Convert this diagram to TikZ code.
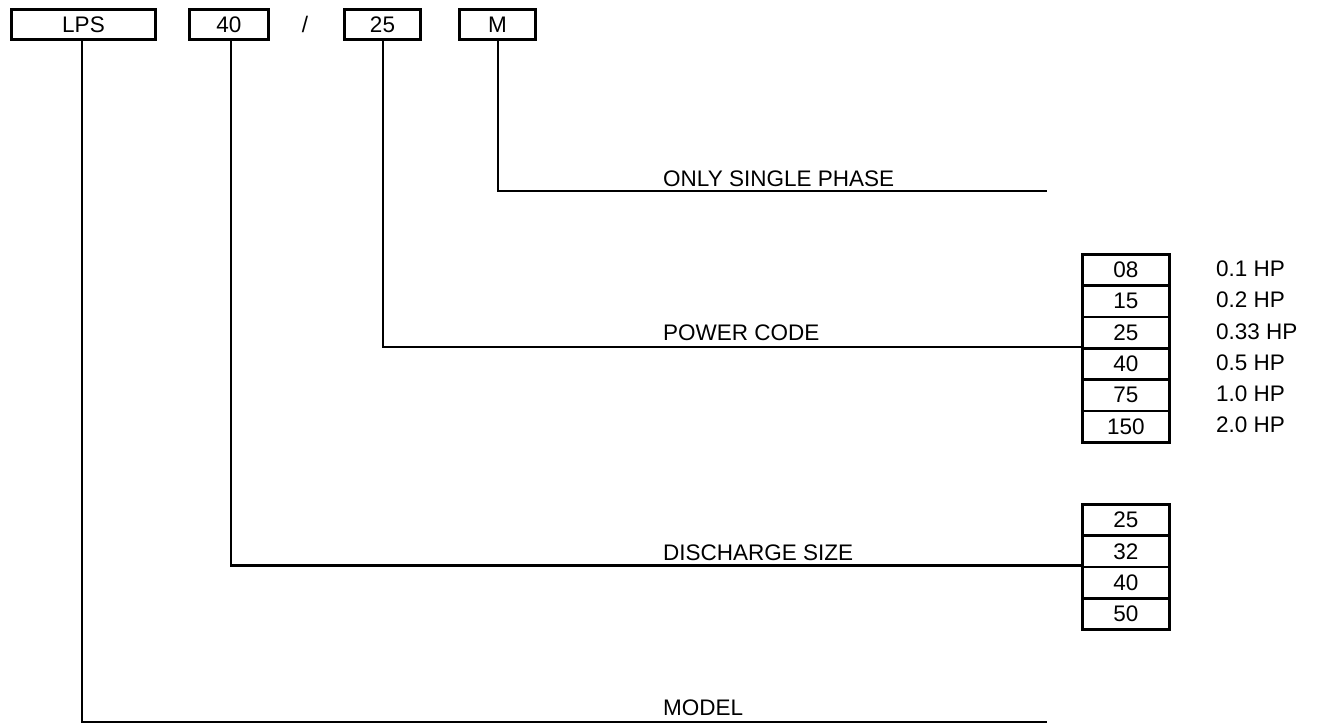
\documentclass[tikz,border=0pt]{standalone}
\usepackage{fontspec}
\setmainfont{Liberation Sans}
\begin{document}
\begin{tikzpicture}[x=1pt,y=-1pt,
  every node/.style={font=\fontsize{22.5}{26}\selectfont, inner sep=0pt},
  codebox/.style={draw, line width=2.8pt, minimum height=30pt},
  cell/.style={draw, line width=2.8pt, minimum width=87pt, minimum height=31.3pt, anchor=north west},
  conn/.style={line width=2.8pt},
  lbl/.style={anchor=base west},
  hp/.style={anchor=west}]
\useasboundingbox (0,0) rectangle (1318,724);
% top boxes
\node[codebox, minimum width=144pt] (lps) at (83.5,24.5) {LPS};
\node[codebox, minimum width=79pt] (c40) at (229,24.5) {40};
\node (slash) at (305,24.5) {/};
\node[codebox, minimum width=76pt] (c25) at (382.5,24.5) {25};
\node[codebox, minimum width=76pt] (cm) at (497.5,24.5) {M};
% power code column
\foreach \t [count=\i from 0] in {08,15,25,40,75,150}{
  \node[cell] (p\i) at (1081,253+31.3*\i) {\t};
}
\foreach \t [count=\i from 0] in {0.1 HP,0.2 HP,0.33 HP,0.5 HP,1.0 HP,2.0 HP}{
  \node[hp] (h\i) at (1216,253+31.3*\i+15.65) {\t};
}
% discharge column
\foreach \t [count=\i from 0] in {25,32,40,50}{
  \node[cell] (d\i) at (1081,503+31.3*\i) {\t};
}
% end coordinates
\coordinate (mend) at (1047,191);
\coordinate (modend) at (1047,722);
% connectors
\draw[conn] (cm.south -| 498,0) |- (mend);
\draw[conn] (c25.south -| 383,0) |- (p3.north west);
\draw[conn] (c40.south -| 231,0) |- (d2.north west);
\draw[conn] (lps.south -| 82,0) |- (modend);
% labels
\node[lbl] (lm) at (663,186) {ONLY SINGLE PHASE};
\node[lbl] (lp) at (663,340) {POWER CODE};
\node[lbl] (ld) at (663,560) {DISCHARGE SIZE};
\node[lbl] (lmod) at (663,715) {MODEL};
\end{tikzpicture}
\end{document}
